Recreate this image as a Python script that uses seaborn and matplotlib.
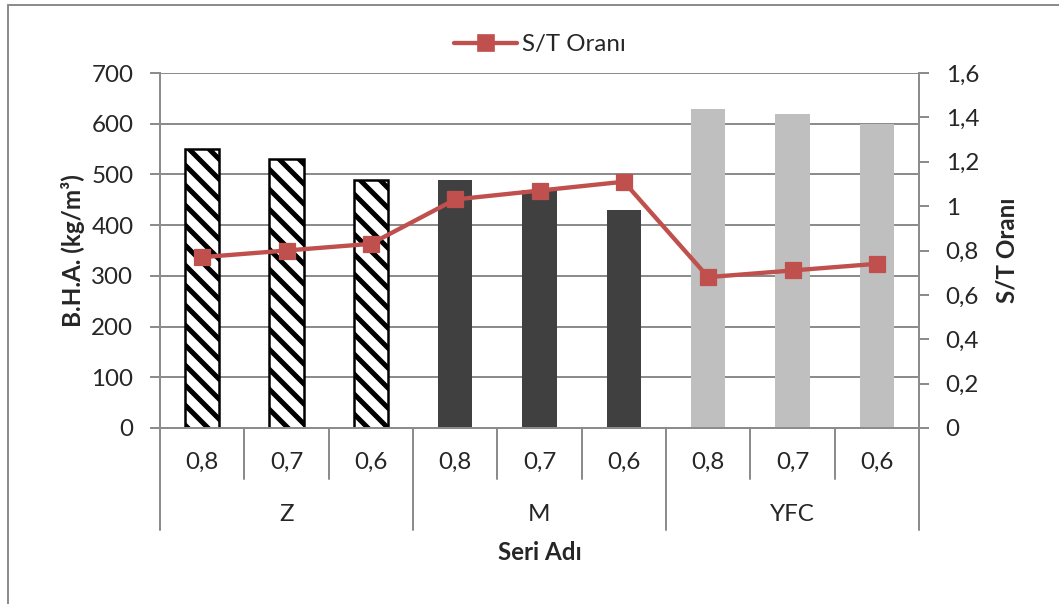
import numpy as np
import pandas as pd
import seaborn as sns
import matplotlib.pyplot as plt
from matplotlib.lines import Line2D

gruplar = ["Z", "Z", "Z", "M", "M", "M", "YFC", "YFC", "YFC"]
oranlar = ["0,8", "0,7", "0,6", "0,8", "0,7", "0,6", "0,8", "0,7", "0,6"]
bha = [550, 530, 490, 490, 470, 430, 630, 620, 600]
st_orani = [0.77, 0.80, 0.83, 1.03, 1.07, 1.11, 0.68, 0.71, 0.74]
renkler = {"Z": "white", "M": "#404040", "YFC": "#BFBFBF"}

df = pd.DataFrame({"Grup": gruplar, "Oran": oranlar, "BHA": bha, "ST": st_orani})
df["Kat"] = df.Grup + "-" + df.Oran  # unique category key

sns.set_style("white")
plt.rcParams['font.family'] = ['Lato', 'DejaVu Sans']
plt.rcParams['hatch.linewidth'] = 3.0
plt.rcParams['hatch.color'] = 'black'

gri = "#8c8c8c"
fs = 14.5

fig = plt.figure(figsize=(1059 / 120, 604 / 120), dpi=120)
ax = fig.add_axes([160 / 1059, 1 - 428 / 604, 759 / 1059, 355 / 604])

sns.barplot(data=df, x="Kat", y="BHA", hue="Grup", palette=renkler, dodge=False,
            width=0.41, ax=ax, legend=False, zorder=3, saturation=1)
for bar, g in zip(ax.patches, df.Grup):
    if g == "Z":
        bar.set_hatch("\\\\")
        bar.set_edgecolor("black")
        bar.set_linewidth(1.5)
    else:
        bar.set_linewidth(0)

ax.set_ylim(0, 700)
ax.set_xlim(-0.5, 8.5)
ax.set_yticks(np.arange(0, 701, 100))
ax.yaxis.grid(True, color=gri, lw=1.2, zorder=0)
ax.set_axisbelow(True)
ax.tick_params(axis="y", left=True, length=6, width=1.2, color=gri, labelsize=fs, pad=10)
ax.tick_params(axis="x", bottom=False, labelbottom=False)
for s in ["top", "right", "bottom"]:
    ax.spines[s].set_visible(False)
ax.spines["left"].set_color(gri)
ax.spines["left"].set_linewidth(1.2)
ax.set_xlabel("")
ax.set_ylabel("B.H.A. (kg/m³)", fontsize=fs, fontweight="bold", labelpad=4)

ax2 = ax.twinx()
sns.lineplot(x=np.arange(len(st_orani)), y=st_orani, ax=ax2, color="#C0504D", lw=2.6,
             marker="s", markersize=9.5, markeredgecolor="#C0504D", zorder=5)
ax2.set_ylim(0, 1.6)
ax2.set_yticks(np.arange(0, 1.61, 0.2))
ax2.set_yticklabels([("%g" % v).replace(".", ",") for v in np.arange(0, 1.61, 0.2).round(1)])
ax2.tick_params(axis="y", right=True, length=6, width=1.2, color=gri, labelsize=fs, pad=10)
for s in ["top", "left", "bottom"]:
    ax2.spines[s].set_visible(False)
ax2.spines["right"].set_color(gri)
ax2.spines["right"].set_linewidth(1.2)
ax2.set_ylabel("S/T Oranı", fontsize=fs, fontweight="bold", labelpad=10)

# multi-level category axis below the plot
tr = ax.get_xaxis_transform()
ax.plot([-0.5, 8.5], [0, 0], color=gri, lw=1.2, transform=tr, clip_on=False, zorder=4)
for i in range(10):
    x = i - 0.5
    bitis = -0.287 if i % 3 == 0 else -0.1437
    ax.plot([x, x], [0, bitis], color=gri, lw=1.2, transform=tr, clip_on=False)
for i, o in enumerate(oranlar):
    ax.text(i, -0.096, o, transform=tr, ha="center", va="center", fontsize=fs)
for j, g in enumerate(["Z", "M", "YFC"]):
    ax.text(3 * j + 1, -0.245, g, transform=tr, ha="center", va="center", fontsize=fs)
ax.text(4, -0.352, "Seri Adı", transform=tr, ha="center", va="center",
        fontsize=fs, fontweight="bold")

# legend on top
h = Line2D([], [], color="#C0504D", lw=2.6, marker="s", markersize=9.5)
fig.legend([h], ["S/T Oranı"], loc="center", bbox_to_anchor=(0.51, 1 - 45 / 604),
           frameon=False, fontsize=fs, handlelength=2.6, handletextpad=0.2)

# chart border
fig.add_artist(Line2D([8 / 1059, 1], [1 - 5 / 604, 1 - 5 / 604], color=gri, lw=1.2))
fig.add_artist(Line2D([8 / 1059, 8 / 1059], [0, 1 - 5 / 604], color=gri, lw=1.2))

fig.savefig("out.png", dpi=120)
